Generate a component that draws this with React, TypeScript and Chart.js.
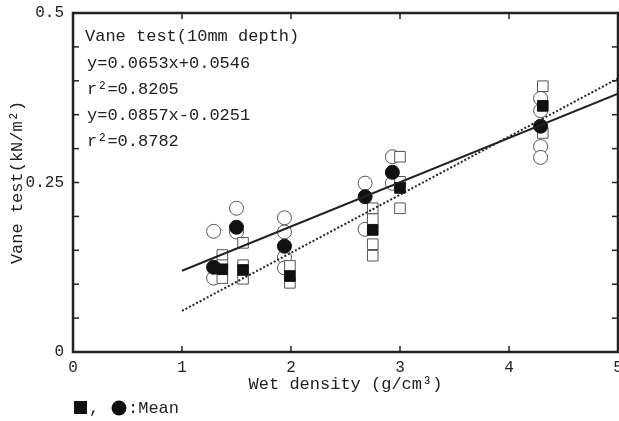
import React, { useEffect, useRef } from 'react';
import { Chart, registerables } from 'chart.js';

Chart.register(...registerables);

const FONT = '"Liberation Mono", "DejaVu Sans Mono", monospace';
const INK = '#222';

// Individual measurements (open markers)
const openCircleX = [1.29, 1.29, 1.5, 1.5, 1.94, 1.94, 1.94, 1.94, 2.68, 2.68, 2.93, 2.93, 4.29, 4.29, 4.29, 4.29];
const openCircleY = [0.178, 0.109, 0.212, 0.177, 0.198, 0.177, 0.14, 0.124, 0.249, 0.181, 0.288, 0.249, 0.374, 0.356, 0.303, 0.287];

const openSquareX = [1.37, 1.37, 1.37, 1.56, 1.56, 1.56, 1.99, 1.99, 2.75, 2.75, 2.75, 2.75, 3.0, 3.0, 3.0, 4.31, 4.31];
const openSquareY = [0.143, 0.128, 0.109, 0.161, 0.128, 0.108, 0.127, 0.102, 0.212, 0.196, 0.159, 0.142, 0.288, 0.251, 0.212, 0.392, 0.323];

// Means (filled markers)
const meanCircleX = [1.29, 1.5, 1.94, 2.68, 2.93, 4.29];
const meanCircleY = [0.125, 0.184, 0.156, 0.229, 0.265, 0.333];

const meanSquareX = [1.37, 1.56, 1.99, 2.75, 3.0, 4.31];
const meanSquareY = [0.122, 0.121, 0.112, 0.18, 0.242, 0.363];

// Regression lines (from the equations shown on the chart)
const fitSolid = { slope: 0.0653, intercept: 0.0546 };
const fitDotted = { slope: 0.0857, intercept: -0.0251 };
const fitRange = [1, 5];

const xTickValues = [0, 1, 2, 3, 4, 5];
const yLabelValues = [0, 0.25, 0.5];
const yLabelText = ['0', '0.25', '0.5'];

const annotationLines = [
  'Vane test(10mm depth)',
  'y=0.0653x+0.0546',
  'r²=0.8205',
  'y=0.0857x-0.0251',
  'r²=0.8782',
];

const xTitle = 'Wet density (g/cm³)';
const yTitle = 'Vane test(kN/m²)';
const legendText = ':Mean';

const pts = (xs: number[], ys: number[]) => xs.map((x, i) => ({ x, y: ys[i] }));
const fitPts = (f: { slope: number; intercept: number }) =>
  fitRange.map((x) => ({ x, y: f.slope * x + f.intercept }));

const framePlugin = {
  id: 'framePlugin',
  afterDraw(chart: any) {
    const { ctx, chartArea: a, scales } = chart;
    const sx = scales.x;
    const sy = scales.y;
    ctx.save();
    ctx.strokeStyle = INK;
    ctx.lineWidth = 1.5;
    const L = 6;
    const seg = (x1: number, y1: number, x2: number, y2: number) => {
      ctx.beginPath();
      ctx.moveTo(x1, y1);
      ctx.lineTo(x2, y2);
      ctx.stroke();
    };
    sx.ticks.forEach((t: any) => {
      if (t.value <= sx.min || t.value >= sx.max) return;
      const px = sx.getPixelForValue(t.value);
      seg(px, a.bottom, px, a.bottom - L);
      seg(px, a.top, px, a.top + L);
    });
    sy.ticks.forEach((t: any) => {
      if (t.value <= sy.min + 1e-9 || t.value >= sy.max - 1e-9) return;
      const py = sy.getPixelForValue(t.value);
      seg(a.left, py, a.left + L, py);
      seg(a.right, py, a.right - L, py);
    });
    ctx.lineWidth = 2.5;
    ctx.strokeRect(a.left, a.top, a.right - a.left, a.bottom - a.top);

    // annotation text
    ctx.fillStyle = INK;
    ctx.font = `17px ${FONT}`;
    ctx.textAlign = 'left';
    ctx.textBaseline = 'middle';
    const ys = [36, 63, 89, 115, 141];
    annotationLines.forEach((s, i) => {
      ctx.fillText(s, i === 0 ? a.left + 12 : a.left + 14, ys[i]);
    });

    // legend
    ctx.fillStyle = '#111';
    ctx.fillRect(74, 401, 13, 13);
    ctx.fillStyle = INK;
    ctx.fillText(',', 89, 408);
    ctx.fillStyle = '#111';
    ctx.beginPath();
    ctx.arc(119, 408, 7.5, 0, Math.PI * 2);
    ctx.fill();
    ctx.fillStyle = INK;
    ctx.fillText(legendText, 128, 408);
    ctx.restore();
  },
};

export default function App() {
  const ref = useRef<HTMLCanvasElement | null>(null);
  useEffect(() => {
    document.body.style.margin = '0';
    const canvas = ref.current;
    if (!canvas) return;
    const chart = new Chart(canvas, {
      type: 'scatter',
      data: {
        datasets: [
          {
            type: 'line',
            data: fitPts(fitSolid),
            borderColor: INK,
            borderWidth: 2,
            pointRadius: 0,
            fill: false,
          } as any,
          {
            type: 'line',
            data: fitPts(fitDotted),
            borderColor: INK,
            borderWidth: 2,
            borderDash: [2, 2],
            pointRadius: 0,
            fill: false,
          } as any,
          {
            data: pts(meanSquareX, meanSquareY),
            pointStyle: 'rect',
            pointRadius: 7.5,
            backgroundColor: '#111',
            borderColor: '#111',
            borderWidth: 1,
          },
          {
            data: pts(meanCircleX, meanCircleY),
            pointStyle: 'circle',
            pointRadius: 7,
            backgroundColor: '#111',
            borderColor: '#111',
            borderWidth: 1,
          },
          {
            data: pts(openSquareX, openSquareY),
            pointStyle: 'rect',
            pointRadius: 7.5,
            backgroundColor: '#fff',
            borderColor: '#555',
            borderWidth: 1,
          },
          {
            data: pts(openCircleX, openCircleY),
            pointStyle: 'circle',
            pointRadius: 7,
            backgroundColor: '#fff',
            borderColor: '#555',
            borderWidth: 1,
          },
        ],
      },
      options: {
        responsive: false,
        animation: false,
        devicePixelRatio: 1,
        layout: { autoPadding: false, padding: { top: 13, right: 1, left: 0, bottom: 0 } },
        plugins: { legend: { display: false }, tooltip: { enabled: false } },
        scales: {
          x: {
            type: 'linear',
            min: 0,
            max: 5,
            afterBuildTicks: (s: any) => {
              s.ticks = xTickValues.map((v) => ({ value: v }));
            },
            ticks: {
              font: { family: FONT, size: 16 },
              color: INK,
              padding: 6,
              maxRotation: 0,
              autoSkip: false,
              callback: (v: any) => String(v),
            },
            grid: { display: false, drawTicks: false },
            border: { display: false },
            title: {
              display: true,
              text: xTitle,
              color: INK,
              font: { family: FONT, size: 17 },
              padding: { top: 0, bottom: 26 },
            },
            afterFit: (s: any) => {
              s.height = 69;
              s.paddingLeft = 0;
              s.paddingRight = 0;
            },
          },
          y: {
            min: 0,
            max: 0.5,
            ticks: {
              stepSize: 0.05,
              autoSkip: false,
              font: { family: FONT, size: 16 },
              color: INK,
              padding: 9,
              callback: (v: any) => {
                const i = yLabelValues.findIndex((l) => Math.abs(l - Number(v)) < 1e-9);
                return i >= 0 ? yLabelText[i] : '';
              },
            },
            grid: { display: false, drawTicks: false },
            border: { display: false },
            title: {
              display: true,
              text: yTitle,
              color: INK,
              font: { family: FONT, size: 17 },
              padding: { top: 7, bottom: 0 },
            },
            afterFit: (s: any) => {
              s.width = 73;
              s.paddingTop = 0;
              s.paddingBottom = 0;
            },
          },
        },
      },
      plugins: [framePlugin],
    });
    return () => chart.destroy();
  }, []);
  return <canvas ref={ref} width={619} height={421} style={{ display: 'block' }} />;
}
